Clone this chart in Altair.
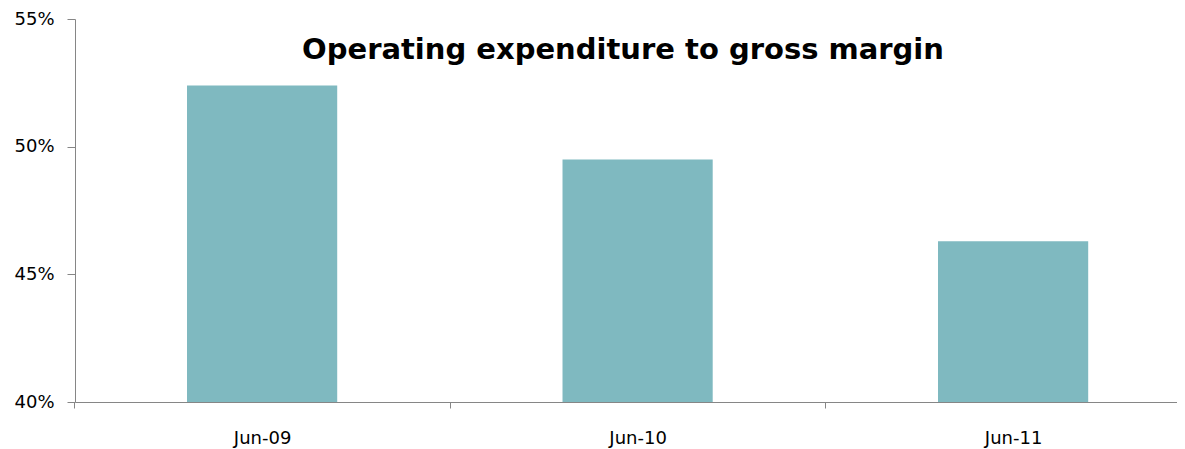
import altair as alt
import pandas as pd

periods = ["Jun-09", "Jun-10", "Jun-11"]
ratios = [0.524, 0.495, 0.463]
y_ticks = [0.40, 0.45, 0.50, 0.55]
title_text = ["Operating expenditure to gross margin"]

df = pd.DataFrame({"period": periods, "ratio": ratios})
tdf = pd.DataFrame({"t": title_text})

x_enc = alt.X(
    "period:N",
    sort=periods,
    title=None,
    scale=alt.Scale(paddingInner=0.6, paddingOuter=0.2674, align=0.5578),
    axis=alt.Axis(
        labelAngle=0,
        labelFont="DejaVu Sans",
        labelFontSize=18,
        labelColor="#000000",
        labelPadding=21,
        tickSize=6,
        tickOffset=-187.75,
        labelOffset=187.75,
        domainColor="#868686",
        tickColor="#868686",
        domainWidth=1,
        tickWidth=1,
    ),
)

y_enc = alt.Y(
    "ratio:Q",
    title=None,
    scale=alt.Scale(domain=[0.40, 0.55], nice=False, zero=False),
    axis=alt.Axis(
        values=y_ticks,
        format=".0%",
        labelFont="DejaVu Sans",
        labelFontSize=18,
        labelColor="#000000",
        labelPadding=13,
        tickSize=8,
        domainColor="#868686",
        tickColor="#868686",
        domainWidth=1,
        tickWidth=1,
        grid=False,
    ),
)

bars = alt.Chart(df).mark_bar(color="#7FB9C0").encode(
    x=x_enc,
    y=y_enc,
    y2=alt.datum(0.40),
)

title = alt.Chart(tdf).mark_text(
    font="DejaVu Sans",
    fontSize=29,
    fontWeight="bold",
    color="#000000",
    align="center",
    baseline="alphabetic",
).encode(text="t:N", x=alt.value(548), y=alt.value(40))

chart = (
    alt.layer(bars, title)
    .properties(
        width=1102,
        height=383,
        padding={"left": 67, "top": 11, "right": 0, "bottom": 46},
        autosize=alt.AutoSizeParams(type="none"),
    )
    .configure_view(stroke=None)
)

chart.save("out.html", embed_options={"renderer": "svg", "actions": False})
